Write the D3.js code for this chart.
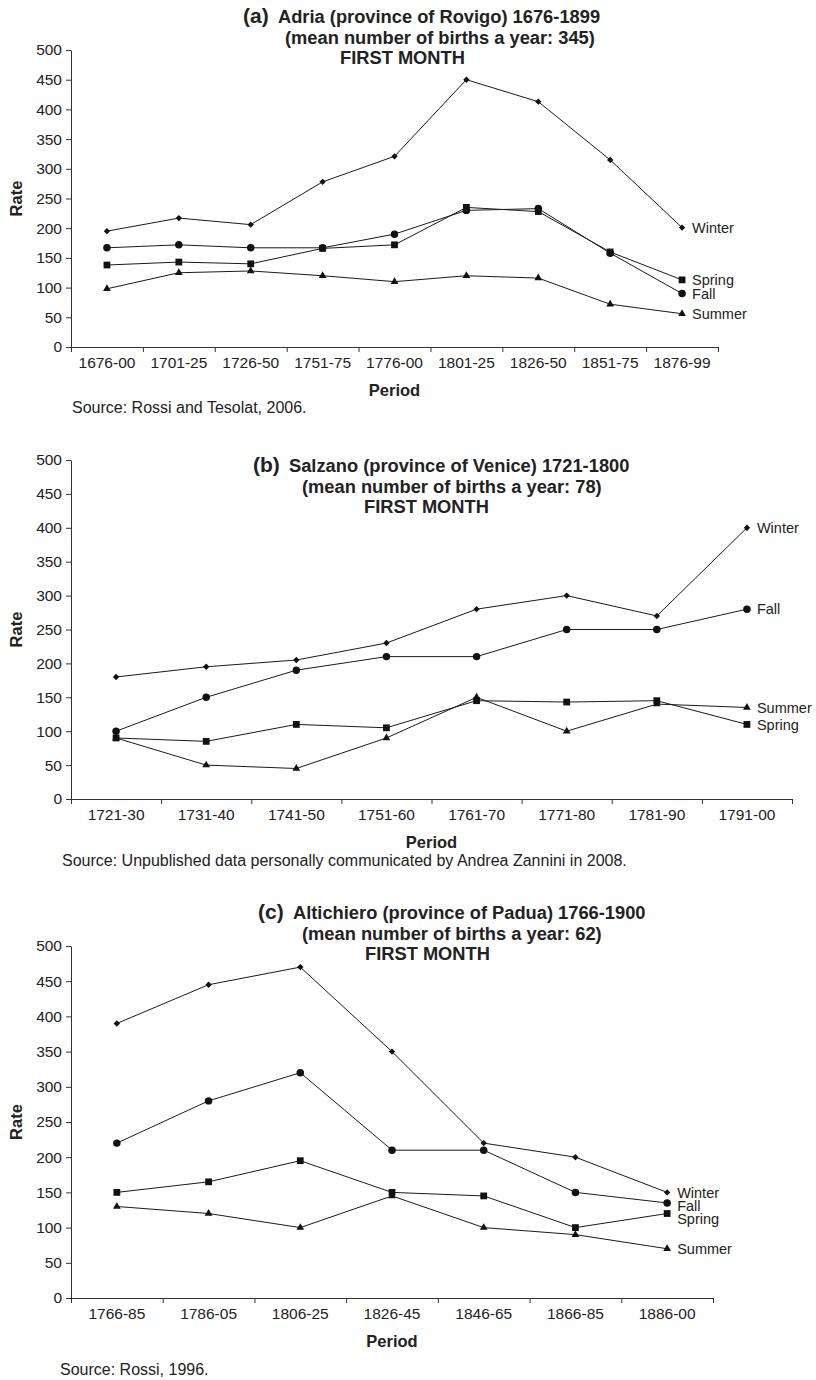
<!DOCTYPE html>
<html>
<head>
<meta charset="utf-8">
<script src="https://cdn.jsdelivr.net/npm/d3@7"></script>
<style>
  body { margin: 0; background: #fff; }
  text { font-family: "Liberation Sans", Arial, Helvetica, sans-serif; fill: #222; }
</style>
</head>
<body>
<svg width="816" height="1380"></svg>
<script>
const svg = d3.select("svg");

// panel (a) Adria
const periodsA = ["1676-00", "1701-25", "1726-50", "1751-75", "1776-00", "1801-25", "1826-50", "1851-75", "1876-99"];
const winterA = [195, 217, 206, 278, 321, 450, 413, 315, 201];
const springA = [138, 143, 140, 166, 172, 235, 228, 160, 113];
const summerA = [98, 125, 128, 120, 110, 120, 116, 72, 56];
const fallA   = [167, 172, 167, 167, 190, 230, 233, 158, 90];

// panel (b) Salzano
const periodsB = ["1721-30", "1731-40", "1741-50", "1751-60", "1761-70", "1771-80", "1781-90", "1791-00"];
const winterB = [180, 195, 205, 230, 280, 300, 270, 400];
const springB = [90, 85, 110, 105, 145, 143, 145, 110];
const summerB = [90, 50, 45, 90, 150, 100, 140, 135];
const fallB   = [100, 150, 190, 210, 210, 250, 250, 280];

// panel (c) Altichiero
const periodsC = ["1766-85", "1786-05", "1806-25", "1826-45", "1846-65", "1866-85", "1886-00"];
const winterC = [390, 445, 470, 350, 220, 200, 150];
const springC = [150, 165, 195, 150, 145, 100, 120];
const summerC = [130, 120, 100, 145, 100, 90, 70];
const fallC   = [220, 280, 320, 210, 210, 150, 135];

const yTicks = d3.range(0, 501, 50);

const symbols = {
  Winter: d3.symbol().type(d3.symbolDiamond2).size(26),
  Spring: d3.symbol().type(d3.symbolSquare).size(46),
  Summer: d3.symbol().type(d3.symbolTriangle).size(26),
  Fall:   d3.symbol().type(d3.symbolCircle).size(44)
};

const render = (cfg) => {
  const {periods, series, left, right, top, bottom, title, source} = cfg;
  const n = periods.length;

  const xScale = d3.scaleBand().domain(periods).range([left, right]).padding(0);
  const xEdges = d3.scaleLinear().domain([0, n]).range([left, right]);
  const yScale = d3.scaleLinear().domain([0, 500]).range([bottom, top]);
  const xc = p => xScale(p) + xScale.bandwidth() / 2;

  const g = svg.append("g");

  // y axis
  const ya = g.append("g")
    .attr("transform", `translate(${left},0)`)
    .call(d3.axisLeft(yScale).tickValues(yTicks).tickSize(5).tickSizeOuter(0).tickPadding(4));
  ya.selectAll("text").style("font-size", "15.5px");

  // x axis: ticks at band edges
  g.append("g")
    .attr("transform", `translate(0,${bottom})`)
    .call(d3.axisBottom(xEdges).tickValues(d3.range(n + 1)).tickFormat("").tickSize(5).tickSizeOuter(0));

  // x labels at band centres
  const xa = g.append("g")
    .attr("transform", `translate(0,${bottom})`)
    .call(d3.axisBottom(xScale).tickSize(0).tickPadding(10));
  xa.select(".domain").remove();
  xa.selectAll("text").style("font-size", "15.5px");

  g.selectAll(".domain, .tick line").attr("stroke", "#333");
  g.selectAll(".tick text").attr("fill", "#222");

  const line = d3.line()
    .x((d, i) => xc(periods[i]))
    .y(d => yScale(d));

  series.forEach(s => {
    g.append("path")
      .attr("d", line(s.values))
      .attr("fill", "none")
      .attr("stroke", "#1a1a1a")
      .attr("stroke-width", 1);
  });

  series.forEach(s => {
    g.selectAll(null).data(s.values).enter().append("path")
      .attr("d", symbols[s.name])
      .attr("transform", (d, i) => `translate(${xc(periods[i])},${yScale(d)})`)
      .attr("fill", "#111");
  });

  // end labels, pushed apart when too close
  const labels = series.map(s => ({name: s.name, y: yScale(s.values[n - 1])}))
    .sort((a, b) => a.y - b.y);
  for (let i = 1; i < labels.length; i++) {
    if (labels[i].y - labels[i - 1].y < 13) labels[i].y = labels[i - 1].y + 13;
  }
  labels.forEach(l => {
    g.append("text")
      .attr("x", xc(periods[n - 1]) + 10)
      .attr("y", l.y)
      .attr("dy", "0.36em")
      .style("font-size", "14.5px")
      .text(l.name);
  });

  // axis titles
  g.append("text")
    .attr("transform", `translate(22,${(top + bottom) / 2}) rotate(-90)`)
    .attr("text-anchor", "middle")
    .style("font-size", "16.5px")
    .style("font-weight", "bold")
    .text("Rate");

  g.append("text")
    .attr("x", (left + right) / 2)
    .attr("y", bottom + 49)
    .attr("text-anchor", "middle")
    .style("font-size", "16.5px")
    .style("font-weight", "bold")
    .text("Period");

  // title block
  g.append("text")
    .attr("x", title.x0).attr("y", title.y)
    .style("font-size", "21px").style("font-weight", "bold")
    .text(title.tag);
  title.lines.forEach((t, i) => {
    g.append("text")
      .attr("x", title.xs[i]).attr("y", title.y + i * 20.7)
      .style("font-size", "18.3px").style("font-weight", "bold")
      .text(t);
  });

  g.append("text")
    .attr("x", source.x).attr("y", source.y)
    .style("font-size", "16px")
    .text(source.text);
};

const makeSeries = (w, sp, su, f) => [
  {name: "Winter", values: w},
  {name: "Spring", values: sp},
  {name: "Summer", values: su},
  {name: "Fall", values: f}
];

render({
  periods: periodsA,
  series: makeSeries(winterA, springA, summerA, fallA),
  left: 71, right: 718, top: 50, bottom: 347,
  title: {tag: "(a)", x0: 243, y: 23, xs: [278, 285, 340],
    lines: ["Adria (province of Rovigo) 1676-1899", "(mean number of births a year: 345)", "FIRST MONTH"]},
  source: {x: 72, y: 413, text: "Source: Rossi and Tesolat, 2006."}
});

render({
  periods: periodsB,
  series: makeSeries(winterB, springB, summerB, fallB),
  left: 71, right: 792, top: 460, bottom: 799,
  title: {tag: "(b)", x0: 253, y: 472, xs: [289, 302, 364],
    lines: ["Salzano (province of Venice) 1721-1800", "(mean number of births a year: 78)", "FIRST MONTH"]},
  source: {x: 62, y: 866, text: "Source: Unpublished data personally communicated by Andrea Zannini in 2008."}
});

render({
  periods: periodsC,
  series: makeSeries(winterC, springC, summerC, fallC),
  left: 71, right: 713, top: 946, bottom: 1298,
  title: {tag: "(c)", x0: 258, y: 919, xs: [293, 302, 365],
    lines: ["Altichiero (province of Padua) 1766-1900", "(mean number of births a year: 62)", "FIRST MONTH"]},
  source: {x: 60, y: 1375, text: "Source: Rossi, 1996."}
});
</script>
</body>
</html>
